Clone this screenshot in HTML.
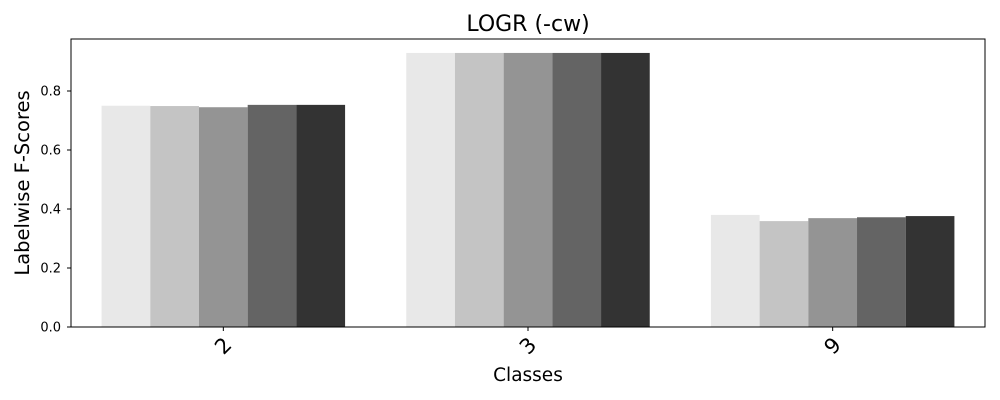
<!DOCTYPE html>
<html><head><meta charset="utf-8"><style>
body{margin:0;background:#fff;}
svg{display:block;font-family:"DejaVu Sans","Liberation Sans",sans-serif;}
</style></head><body>
<svg id="chart" width="1000" height="400"></svg>
<script>
const categories=["2","3","9"];
const series1=[0.750,0.929,0.380];
const series2=[0.749,0.929,0.359];
const series3=[0.745,0.929,0.369];
const series4=[0.753,0.929,0.372];
const series5=[0.753,0.929,0.376];
const seriesList=[series1,series2,series3,series4,series5];
const colors=["#e8e8e8","#c4c4c4","#949494","#646464","#333333"];
const yTicks=[0.0,0.2,0.4,0.6,0.8];
const yTickLabels=["0.0","0.2","0.4","0.6","0.8"];

const NS="http://www.w3.org/2000/svg";
const svg=document.getElementById('chart');
const L=71,R=985,T=39,B=327;
const yMax=(B-T)/295;
const y=v=>B-v/yMax*(B-T);
const groupW=(R-L)/categories.length;
const barW=48.7;
const xc=i=>L+groupW*(i+0.5);
function mk(tag,attrs){const e=document.createElementNS(NS,tag);for(const k in attrs)e.setAttribute(k,attrs[k]);svg.appendChild(e);return e;}

seriesList.forEach((s,si)=>{
  s.forEach((v,i)=>{
    const x=xc(i)+(si-2.5)*barW;
    const r=mk('rect',{x:x,y:y(v),width:barW,height:B-y(v),fill:colors[si]});
    
    
  });
});
const frame=mk('rect',{x:L,y:T,width:R-L,height:B-T,fill:'none',stroke:'#000','stroke-width':1});



yTicks.forEach((t,i)=>{
  const ln=mk('line',{x1:L-4,x2:L,y1:y(t),y2:y(t),stroke:'#000'});
  
  
  const tx=mk('text',{x:L-10,y:y(t)+4.5,'text-anchor':'end','font-size':13});
  tx.textContent=yTickLabels[i];
  
  
});
categories.forEach((c,i)=>{
  const ln=mk('line',{x1:xc(i),x2:xc(i),y1:B,y2:B+4,stroke:'#000'});
  
  
  const cx=xc(i), cy=B+19;
  const tx=mk('text',{x:cx,y:cy+7,'text-anchor':'middle','font-size':21,transform:'rotate(-45 '+cx+' '+cy+')'});
  tx.textContent=c;
  
  
});
const title=mk('text',{x:(L+R)/2,y:31,'text-anchor':'middle','font-size':22});
title.textContent='LOGR (-cw)';


const xt=mk('text',{x:(L+R)/2,y:381,'text-anchor':'middle','font-size':18.5});
xt.textContent='Classes';


const yt=mk('text',{x:29,y:183,'text-anchor':'middle','font-size':19.5,transform:'rotate(-90 29 183)'});
yt.textContent='Labelwise F-Scores';


</script>
</body></html>
